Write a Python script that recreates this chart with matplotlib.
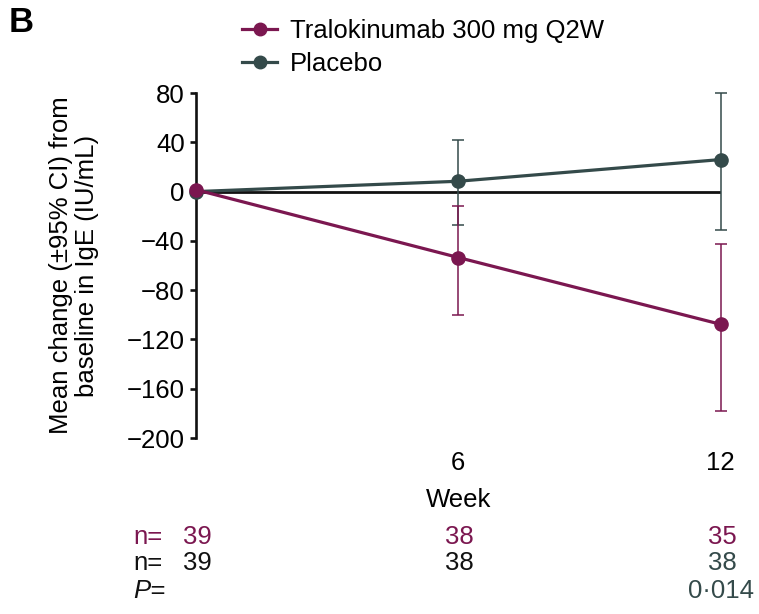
import matplotlib
matplotlib.use("Agg")
import matplotlib.pyplot as plt
from matplotlib.lines import Line2D
import matplotlib.transforms as mtransforms

plt.rcParams['font.family'] = ['Liberation Sans', 'DejaVu Sans']

weeks = [0, 6, 12]
tick_weeks = [6, 12]
tick_labels = ["6", "12"]
tralo_mean = [1.5, -53.5, -107.7]
tralo_low = [1.5, -100.0, -178.0]
tralo_high = [1.5, -11.4, -42.6]
plac_mean = [0.0, 8.4, 26.0]
plac_low = [0.0, -27.0, -31.5]
plac_high = [0.0, 42.0, 80.0]
tralo_n = ["39", "38", "35"]
plac_n = ["39", "38", "38"]
p_values = ["", "", "0·014"]
yticks = [80, 40, 0, -40, -80, -120, -160, -200]

C_TRALO = "#7B1750"
C_PLAC = "#344A4A"
FS = 18.5

fig = plt.figure(figsize=(7.59, 6.14), dpi=100)
ax = fig.add_axes([0.2582, 0.2866, 0.6913, 0.5619])

ax.set_xlim(0, 12)
ax.set_ylim(-200, 80)

ax.plot([0, 12], [0, 0], color="#111111", lw=2.0, zorder=2, solid_capstyle='butt')

def err(mean, lo, hi):
    return [[m - l for m, l in zip(mean, lo)], [h - m for m, h in zip(mean, hi)]]

ax.errorbar(weeks[1:], plac_mean[1:], yerr=[e[1:] for e in err(plac_mean, plac_low, plac_high)],
            fmt='none', ecolor=C_PLAC, elinewidth=1.1, capsize=4, capthick=1.1, zorder=3, clip_on=False)
ax.errorbar(weeks[1:], tralo_mean[1:], yerr=[e[1:] for e in err(tralo_mean, tralo_low, tralo_high)],
            fmt='none', ecolor=C_TRALO, elinewidth=1.1, capsize=4, capthick=1.1, zorder=3, clip_on=False)

ax.plot(weeks, plac_mean, color=C_PLAC, lw=2.3, marker='o', ms=9.5, zorder=4, clip_on=False)
ax.plot(weeks, tralo_mean, color=C_TRALO, lw=2.3, marker='o', ms=9.5, zorder=5, clip_on=False)

for s in ['top', 'right', 'bottom']:
    ax.spines[s].set_visible(False)
ax.spines['left'].set_linewidth(1.9)
ax.spines['left'].set_color("#111111")

ax.set_yticks(yticks)
ax.set_yticklabels([("\u2212" + str(-v)) if v < 0 else str(v) for v in yticks])
ax.tick_params(axis='y', direction='out', length=4, width=1.9, labelsize=FS, pad=4, color="#111111")
ax.set_xticks(tick_weeks)
ax.set_xticklabels(tick_labels)
ax.tick_params(axis='x', length=0, labelsize=FS, pad=9)

ax.set_xlabel("Week", fontsize=FS, labelpad=10)
ax.set_ylabel("Mean change (\u00b195% CI) from\nbaseline in IgE (IU/mL)", fontsize=FS, labelpad=20,
              linespacing=1.12)

handles = [Line2D([0], [0], color=C_TRALO, lw=2.3, marker='o', ms=9),
           Line2D([0], [0], color=C_PLAC, lw=2.3, marker='o', ms=9)]
fig.legend(handles, ["Tralokinumab 300 mg Q2W", "Placebo"], loc='upper left',
           bbox_to_anchor=(0.2885, 1.006), frameon=False, fontsize=FS, handlelength=1.36,
           handletextpad=0.5, labelspacing=0.35)

fig.text(0.012, 0.963, "B", fontsize=25, fontweight='bold', va='center', ha='left')

row_y = [1 - 537 / 614, 1 - 563 / 614, 1 - 591 / 614]
fig.text(133 / 759, row_y[0], "n=", color=C_TRALO, fontsize=FS, va='center', ha='left')
fig.text(133 / 759, row_y[1], "n=", color="#111111", fontsize=FS, va='center', ha='left')
fig.text(133 / 759, row_y[2], "P=", color="#111111", fontsize=FS, va='center', ha='left', style='italic')
blend = mtransforms.blended_transform_factory(ax.transData, fig.transFigure)
plac_cols = ["#111111", "#111111", C_PLAC]
for i, w in enumerate(weeks):
    ax.text(w + 0.03, row_y[0], tralo_n[i], transform=blend, color=C_TRALO, fontsize=FS,
            va='center', ha='center', clip_on=False)
    ax.text(w + 0.03, row_y[1], plac_n[i], transform=blend, color=plac_cols[i], fontsize=FS,
            va='center', ha='center', clip_on=False)
    if p_values[i]:
        ax.text(w, row_y[2], p_values[i], transform=blend, color=C_PLAC, fontsize=FS,
                va='center', ha='center', clip_on=False)

fig.savefig("out.png", dpi=100)
